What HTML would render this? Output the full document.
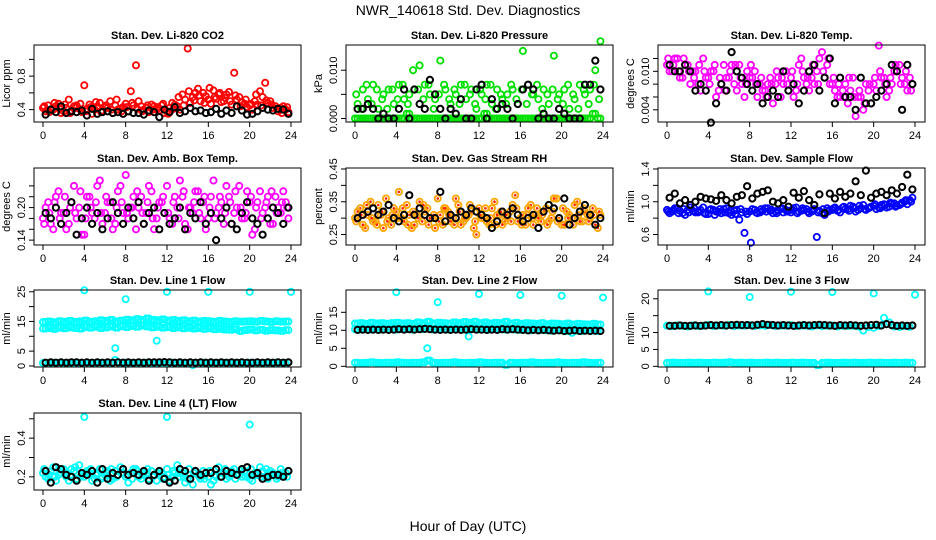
<!DOCTYPE html>
<html><head><meta charset="utf-8"><style>
html,body{margin:0;padding:0;background:#fff;}
svg{display:block;font-family:"Liberation Sans",sans-serif;}
</style></head><body>
<svg id="chart" width="936" height="540" viewBox="0 0 936 540">
<text x="468" y="15" text-anchor="middle" font-size="14">NWR_140618  Std. Dev. Diagnostics</text>
<text x="468" y="531" text-anchor="middle" font-size="14">Hour of Day (UTC)</text>
</svg>
<script>
// shared x positions (hours)
const hoursA = [0,0.5,1,1.5,2,2.5,3,3.5,4,4.5,5,5.5,6,6.5,7,7.5,8,8.5,9,9.5,10,10.5,11,11.5,12,12.5,13,13.5,14,14.5,15,15.5,16,16.5,17,17.5,18,18.5,19,19.5,20,20.5,21,21.5,22,22.5,23,23.5];
const hoursB = [0.25,0.75,1.25,1.75,2.25,2.75,3.25,3.75,4.25,4.75,5.25,5.75,6.25,6.75,7.25,7.75,8.25,8.75,9.25,9.75,10.25,10.75,11.25,11.75,12.25,12.75,13.25,13.75,14.25,14.75,15.25,15.75,16.25,16.75,17.25,17.75,18.25,18.75,19.25,19.75,20.25,20.75,21.25,21.75,22.25,22.75,23.25,23.75];
const hoursC = [0.12,0.62,1.12,1.62,2.12,2.62,3.12,3.62,4.12,4.62,5.12,5.62,6.12,6.62,7.12,7.62,8.12,8.62,9.12,9.62,10.12,10.62,11.12,11.62,12.12,12.62,13.12,13.62,14.12,14.62,15.12,15.62,16.12,16.62,17.12,17.62,18.12,18.62,19.12,19.62,20.12,20.62,21.12,21.62,22.12,22.62,23.12,23.62];
const xTicks = [0,4,8,12,16,20,24];

// Panel 1: CO2
const co2Red1 = [0.42,0.45,0.40,0.47,0.38,0.52,0.44,0.41,0.69,0.46,0.40,0.48,0.43,0.50,0.45,0.41,0.47,0.62,0.93,0.44,0.42,0.46,0.40,0.45,0.38,0.48,0.44,0.58,1.13,0.55,0.65,0.60,0.52,0.63,0.58,0.50,0.61,0.84,0.55,0.47,0.45,0.50,0.62,0.72,0.50,0.44,0.42,0.40];
const co2Red2 = [0.38,0.40,0.44,0.36,0.42,0.39,0.45,0.37,0.41,0.35,0.44,0.39,0.42,0.36,0.40,0.43,0.38,0.45,0.50,0.40,0.37,0.44,0.39,0.36,0.42,0.46,0.40,0.52,0.48,0.60,0.50,0.56,0.47,0.53,0.49,0.58,0.46,0.52,0.49,0.43,0.40,0.46,0.55,0.48,0.42,0.38,0.44,0.37];
const co2Red3 = [0.44,0.37,0.48,0.41,0.46,0.36,0.42,0.47,0.38,0.43,0.49,0.37,0.45,0.40,0.52,0.38,0.43,0.48,0.41,0.38,0.45,0.40,0.43,0.47,0.35,0.41,0.55,0.45,0.62,0.51,0.57,0.48,0.66,0.55,0.60,0.54,0.50,0.57,0.44,0.52,0.47,0.58,0.45,0.51,0.46,0.41,0.36,0.43];
const co2Black = [0.34,0.40,0.37,0.44,0.36,0.38,0.37,0.39,0.33,0.41,0.35,0.37,0.38,0.36,0.37,0.35,0.38,0.36,0.36,0.34,0.39,0.37,0.31,0.40,0.37,0.43,0.36,0.38,0.42,0.38,0.39,0.36,0.37,0.41,0.35,0.39,0.36,0.44,0.39,0.34,0.35,0.38,0.42,0.40,0.39,0.41,0.40,0.35];
// Panel 2: pressure
const presGreen1 = [0.003,0.006,0.004,0.007,0.002,0.005,0.006,0.003,0.007,0.004,0.005,0.006,0.011,0.007,0.005,0.004,0.012,0.006,0.003,0.005,0.007,0.004,0.006,0.002,0.005,0.007,0.003,0.006,0.004,0.005,0.006,0.003,0.014,0.007,0.005,0.004,0.006,0.003,0.013,0.005,0.006,0.002,0.004,0.007,0.005,0.006,0.010,0.016];
const presGreen2 = [0,0,0,0,0,0,0,0,0,0,0.001,0,0,0,0,0,0,0,0,0,0,0,0,0,0,0.001,0,0,0,0,0,0,0,0,0,0,0,0,0,0,0,0,0,0,0,0,0.001,0];
const presGreen3 = [0.005,0.002,0.007,0.003,0.006,0.004,0.002,0.006,0.004,0.007,0.003,0.010,0.006,0.004,0.007,0.002,0.005,0.007,0.004,0.006,0.003,0.007,0.005,0.003,0.006,0.004,0.007,0.002,0.005,0.003,0.007,0.004,0.006,0.003,0.005,0.007,0.002,0.005,0.006,0.004,0.003,0.007,0.005,0.002,0.006,0.003,0.007,0.004];
const presBlack = [0.002,0.002,0.003,0.002,0,0.001,0,0,0.002,0.006,0,0.006,0.003,0.002,0.008,0.005,0.002,0,0.002,0.001,0.004,0,0,0.006,0.007,0,0.004,0.002,0.003,0.002,0,0.003,0.006,0.007,0.006,0,0.001,0,0,0.002,0.001,0,0,0,0.007,0.007,0.012,0.006];
// Panel 3: Li-820 temp
const tempMag1 = [0.011,0.010,0.012,0.009,0.011,0.010,0.008,0.012,0.009,0.010,0.007,0.011,0.009,0.008,0.011,0.006,0.009,0.010,0.008,0.007,0.009,0.008,0.006,0.010,0.009,0.007,0.012,0.008,0.009,0.010,0.013,0.011,0.008,0.006,0.007,0.005,0.009,0.006,0.004,0.007,0.008,0.014,0.009,0.007,0.010,0.011,0.008,0.009];
const tempMag2 = [0.010,0.012,0.009,0.011,0.008,0.010,0.007,0.009,0.010,0.006,0.008,0.009,0.011,0.007,0.008,0.010,0.009,0.006,0.007,0.008,0.005,0.009,0.008,0.007,0.006,0.011,0.009,0.007,0.008,0.012,0.009,0.008,0.007,0.006,0.008,0.007,0.003,0.006,0.008,0.005,0.007,0.009,0.006,0.008,0.010,0.009,0.007,0.008];
const tempMag3 = [0.012,0.011,0.010,0.012,0.010,0.009,0.011,0.010,0.008,0.011,0.009,0.007,0.010,0.011,0.009,0.008,0.011,0.008,0.009,0.006,0.008,0.010,0.009,0.008,0.010,0.008,0.010,0.009,0.011,0.008,0.010,0.012,0.009,0.008,0.006,0.009,0.006,0.007,0.005,0.008,0.009,0.010,0.008,0.009,0.011,0.008,0.010,0.007];
const tempBlack = [0.011,0.010,0.010,0.011,0.010,0.007,0.008,0.007,0.002,0.005,0.008,0.007,0.013,0.010,0.009,0.008,0.007,0.008,0.005,0.006,0.007,0.006,0.010,0.007,0.008,0.005,0.007,0.010,0.011,0.007,0.009,0.012,0.005,0.009,0.006,0.006,0.004,0.009,0.005,0.005,0.006,0.007,0.008,0.011,0.010,0.004,0.011,0.008];
// Panel 4: amb box temp
const boxMag1 = [0.18,0.21,0.16,0.23,0.19,0.17,0.24,0.20,0.15,0.22,0.18,0.25,0.19,0.21,0.17,0.24,0.26,0.20,0.16,0.22,0.19,0.23,0.18,0.21,0.24,0.17,0.20,0.22,0.16,0.19,0.23,0.21,0.18,0.25,0.20,0.17,0.22,0.19,0.24,0.18,0.21,0.16,0.23,0.20,0.17,0.22,0.19,0.21];
const boxMag2 = [0.20,0.17,0.22,0.19,0.16,0.21,0.18,0.15,0.22,0.19,0.24,0.17,0.21,0.16,0.23,0.19,0.18,0.22,0.20,0.17,0.24,0.16,0.21,0.19,0.18,0.22,0.25,0.17,0.20,0.23,0.18,0.16,0.22,0.19,0.21,0.24,0.17,0.20,0.18,0.23,0.15,0.21,0.19,0.22,0.17,0.20,0.23,0.18];
const boxMag3 = [0.17,0.19,0.21,0.18,0.22,0.20,0.19,0.23,0.18,0.20,0.21,0.19,0.22,0.18,0.20,0.21,0.19,0.20,0.23,0.19,0.21,0.18,0.20,0.22,0.19,0.21,0.18,0.23,0.20,0.21,0.19,0.22,0.20,0.18,0.22,0.19,0.21,0.23,0.20,0.19,0.22,0.20,0.18,0.21,0.23,0.19,0.21,0.20];
const boxBlack = [0.19,0.18,0.20,0.17,0.19,0.21,0.15,0.18,0.20,0.17,0.19,0.16,0.18,0.21,0.19,0.17,0.20,0.18,0.21,0.17,0.19,0.20,0.16,0.19,0.17,0.18,0.20,0.16,0.19,0.18,0.21,0.17,0.19,0.14,0.18,0.20,0.17,0.16,0.19,0.21,0.18,0.17,0.15,0.18,0.20,0.19,0.17,0.20];
// Panel 5: RH
const rhOrange1 = [0.30,0.33,0.27,0.35,0.29,0.31,0.36,0.28,0.32,0.30,0.34,0.27,0.31,0.29,0.33,0.30,0.36,0.28,0.32,0.30,0.34,0.29,0.31,0.27,0.33,0.30,0.28,0.35,0.31,0.29,0.32,0.37,0.30,0.28,0.34,0.31,0.29,0.33,0.30,0.36,0.28,0.32,0.30,0.35,0.29,0.31,0.33,0.27];
const rhOrange2 = [0.32,0.28,0.31,0.29,0.34,0.27,0.30,0.33,0.38,0.29,0.31,0.28,0.35,0.32,0.30,0.27,0.31,0.33,0.29,0.36,0.28,0.30,0.32,0.25,0.30,0.29,0.33,0.31,0.28,0.30,0.34,0.29,0.31,0.33,0.28,0.30,0.32,0.29,0.36,0.30,0.28,0.31,0.34,0.29,0.32,0.30,0.28,0.31];
const rhOrange3 = [0.29,0.31,0.34,0.30,0.28,0.32,0.29,0.31,0.30,0.33,0.28,0.32,0.30,0.34,0.28,0.31,0.29,0.33,0.31,0.28,0.32,0.30,0.34,0.29,0.31,0.33,0.30,0.28,0.32,0.31,0.29,0.33,0.28,0.31,0.30,0.33,0.31,0.28,0.32,0.29,0.33,0.30,0.28,0.31,0.33,0.29,0.31,0.32];
const rhBlack = [0.30,0.31,0.32,0.33,0.31,0.32,0.34,0.30,0.29,0.31,0.37,0.31,0.33,0.31,0.30,0.30,0.38,0.29,0.31,0.30,0.32,0.31,0.33,0.32,0.31,0.30,0.27,0.29,0.32,0.31,0.33,0.31,0.29,0.30,0.31,0.27,0.32,0.34,0.33,0.30,0.36,0.28,0.30,0.32,0.34,0.31,0.28,0.30];
// Panel 6: sample flow
const sfBlue1 = [0.90,0.88,0.92,0.86,0.90,0.89,0.87,0.93,0.85,0.90,0.88,0.91,0.86,0.89,0.78,0.62,0.88,0.90,0.87,0.92,0.89,0.88,0.91,0.90,0.87,0.93,0.89,0.91,0.88,0.57,0.86,0.92,0.90,0.89,0.93,0.91,0.94,0.90,0.96,0.92,0.95,0.93,0.97,0.94,0.98,0.96,1.00,1.02];
const sfBlue2 = [0.86,0.92,0.89,0.84,0.93,0.87,0.90,0.85,0.91,0.88,0.86,0.92,0.84,0.90,0.87,0.85,0.91,0.86,0.89,0.92,0.86,0.90,0.87,0.89,0.92,0.88,0.90,0.86,0.91,0.89,0.84,0.90,0.93,0.87,0.91,0.95,0.88,0.92,0.90,0.94,0.91,0.96,0.93,0.98,0.95,0.99,0.97,1.05];
const sfBlue3 = [0.88,0.90,0.86,0.91,0.87,0.92,0.88,0.86,0.90,0.84,0.91,0.87,0.89,0.85,0.91,0.88,0.50,0.87,0.91,0.88,0.90,0.86,0.92,0.88,0.90,0.86,0.92,0.88,0.90,0.87,0.91,0.88,0.92,0.90,0.94,0.89,0.92,0.95,0.91,0.93,0.97,0.92,0.96,0.99,0.94,0.97,1.02,1.00];
const sfBlack = [1.05,1.10,0.98,1.02,0.96,1.00,1.06,1.04,1.03,1.01,1.08,1.02,0.98,1.06,1.08,1.19,1.04,1.10,1.12,1.14,1.00,0.98,1.02,0.94,1.11,1.05,1.13,1.02,0.96,1.09,0.86,1.10,1.04,1.12,1.06,1.10,1.25,1.08,1.38,1.05,1.10,1.12,1.08,1.14,1.10,1.18,1.33,1.15];
// Panel 7: Line 1 flow
const l1Upper = [14.8,15.0,14.7,15.1,14.9,15.2,14.8,15.0,15.3,14.9,15.1,15.4,15.2,15.5,15.0,15.3,15.6,15.4,15.8,15.5,16.0,15.6,15.4,15.7,15.3,15.5,15.2,15.4,15.1,15.3,15.0,15.2,15.1,14.9,15.2,15.0,14.8,15.1,14.9,15.0,15.1,14.9,15.2,15.0,14.8,15.1,14.9,15.0];
const l1Lower = [12.6,12.8,12.5,12.9,12.7,13.0,12.8,12.6,13.1,12.9,13.2,12.8,13.0,13.3,12.9,13.4,13.1,13.5,13.2,13.6,13.3,13.0,13.2,12.9,13.1,12.8,13.0,12.7,12.9,12.6,12.8,12.5,12.7,12.4,12.5,12.3,12.2,12.4,11.8,12.1,12.3,12.0,12.2,11.9,12.1,12.0,11.8,12.1];
const l1Base = [1.0,0.9,1.1,1.0,0.9,1.0,1.1,1.0,0.9,1.0,1.0,1.1,0.9,1.0,2.0,1.0,1.1,0.9,1.0,1.0,1.1,1.0,0.9,1.0,1.0,1.1,1.0,0.9,1.0,0.3,1.0,1.1,0.9,1.0,1.0,1.1,1.0,0.9,1.0,1.0,1.1,1.0,0.9,1.0,1.0,1.1,1.0,0.9];
const l1Black = [1.1,1.2,1.1,1.2,1.1,1.2,1.2,1.1,1.2,1.1,1.2,1.1,1.2,1.1,1.2,1.1,1.2,1.1,1.2,1.1,1.2,1.2,1.2,1.3,1.2,1.1,1.2,1.1,1.2,1.1,1.2,1.1,1.2,1.1,1.2,1.1,1.2,1.1,1.2,1.1,1.1,1.2,1.1,1.2,1.1,1.2,1.1,1.2];
const l1OutX = [4,8,7,11,12,16,20,24];
const l1OutY = [25.5,22.5,6,8.5,25,25,25,25];
// Panel 8: Line 2 flow
const l2Upper = [11.9,12.0,11.8,12.1,11.9,12.0,11.8,12.0,12.1,11.9,12.0,11.8,12.2,12.0,12.4,11.9,12.1,12.0,11.9,12.2,12.0,12.3,12.1,12.4,12.0,12.2,11.9,12.1,12.0,12.4,11.9,12.1,11.8,12.0,11.9,11.8,12.0,11.7,11.9,11.8,11.7,11.9,11.6,11.8,11.7,11.6,11.8,11.6];
const l2Mid = [10.3,10.2,10.4,10.2,10.3,10.2,10.4,10.3,10.2,10.4,10.3,10.2,10.4,10.3,10.5,10.2,10.3,10.4,10.2,10.3,10.4,10.2,10.3,10.4,10.2,10.3,10.2,10.4,10.3,10.2,10.3,10.2,10.1,10.2,10.0,10.2,10.1,10.0,9.9,10.1,10.0,9.8,10.0,9.9,9.8,10.0,9.9,9.8];
const l2Base = [1.0,0.9,1.0,1.1,1.0,0.9,1.0,1.0,1.1,1.0,0.9,1.0,1.0,1.1,1.6,1.0,0.9,1.0,1.0,1.1,1.0,0.9,1.0,1.0,1.1,1.0,0.9,1.0,1.0,0.4,1.0,0.9,1.0,1.0,1.1,1.0,0.9,1.0,1.0,1.1,1.0,0.9,1.0,1.0,1.1,1.0,0.9,1.0];
const l2Black = [10.1,10.2,10.1,10.2,10.1,10.2,10.1,10.2,10.3,10.2,10.3,10.2,10.3,10.4,10.3,10.2,10.1,10.2,10.1,10.2,10.1,10.2,10.3,10.2,10.2,10.1,10.2,10.1,10.3,10.2,10.3,10.2,10.1,10.0,10.1,10.0,10.1,10.0,9.9,10.0,9.8,9.9,10.0,9.8,9.9,9.8,9.9,9.8];
const l2OutX = [4,8,7,11,12,16,20,21,24];
const l2OutY = [20.6,17.8,5.0,8.3,20.1,19.8,19.6,9.3,19.1];
// Panel 9: Line 3 flow
const l3Upper = [12.0,11.9,12.1,12.0,11.8,12.1,11.9,12.0,12.2,11.9,12.1,12.0,12.2,11.9,12.1,12.0,12.2,11.9,12.1,12.0,12.2,11.9,12.1,12.0,12.2,11.9,12.1,12.0,11.8,12.1,11.9,12.0,12.1,11.8,12.0,11.9,12.0,11.8,10.6,11.6,11.4,11.9,14.3,13.0,11.8,11.6,11.9,11.7];
const l3Base = [1.0,1.1,1.0,1.0,1.1,1.0,1.1,1.0,1.0,1.1,1.0,1.1,1.2,1.0,1.1,1.0,1.1,1.0,1.0,1.1,1.0,1.1,1.0,1.0,1.1,1.0,1.1,1.0,1.0,0.4,1.0,1.1,1.0,1.0,1.1,1.0,1.1,1.0,1.0,1.1,1.0,1.1,1.0,1.0,1.1,1.0,1.1,1.0];
const l3Black = [12.0,12.0,12.1,12.0,12.0,12.1,12.0,12.1,12.2,12.1,12.2,12.1,12.2,12.3,12.2,12.2,12.1,12.3,12.5,12.3,12.2,12.1,12.2,12.1,12.0,12.1,12.2,12.1,12.2,12.3,12.2,12.1,12.0,12.2,12.1,12.2,12.1,12.0,12.1,12.2,12.3,12.1,12.5,12.2,12.0,12.1,12.0,12.1];
const l3OutX = [4,8,12,16,20,24];
const l3OutY = [22.2,20.5,22.1,22.0,21.6,21.2];
// Panel 10: Line 4 flow
const l4Cyan1 = [0.22,0.19,0.25,0.21,0.24,0.18,0.23,0.26,0.20,0.22,0.19,0.24,0.21,0.18,0.23,0.25,0.20,0.22,0.24,0.19,0.21,0.23,0.18,0.22,0.24,0.20,0.26,0.22,0.19,0.16,0.21,0.23,0.20,0.18,0.25,0.22,0.20,0.24,0.21,0.23,0.19,0.22,0.25,0.20,0.23,0.21,0.24,0.22];
const l4Cyan2 = [0.20,0.23,0.18,0.22,0.20,0.24,0.19,0.21,0.23,0.18,0.22,0.20,0.23,0.19,0.21,0.22,0.17,0.24,0.20,0.22,0.19,0.21,0.23,0.20,0.18,0.22,0.20,0.17,0.21,0.23,0.19,0.22,0.16,0.20,0.22,0.19,0.23,0.21,0.20,0.22,0.18,0.21,0.23,0.19,0.22,0.20,0.21,0.23];
const l4Cyan3 = [0.24,0.21,0.20,0.24,0.22,0.21,0.25,0.20,0.22,0.24,0.21,0.19,0.22,0.24,0.20,0.22,0.21,0.19,0.23,0.21,0.24,0.20,0.22,0.19,0.21,0.23,0.22,0.20,0.24,0.22,0.20,0.19,0.23,0.21,0.20,0.24,0.21,0.19,0.23,0.20,0.24,0.22,0.20,0.24,0.21,0.19,0.22,0.20];
const l4Black = [0.23,0.17,0.25,0.24,0.21,0.20,0.18,0.22,0.21,0.23,0.17,0.24,0.19,0.22,0.21,0.24,0.21,0.22,0.21,0.23,0.18,0.21,0.23,0.19,0.17,0.18,0.24,0.23,0.19,0.23,0.21,0.22,0.22,0.24,0.20,0.23,0.22,0.21,0.24,0.25,0.21,0.22,0.19,0.20,0.21,0.21,0.20,0.23];
const l4OutX = [4,12,20];
const l4OutY = [0.51,0.51,0.47];

const BLACK = '#000000';
const panels = [
 {name:'co2', title:'Stan. Dev. Li-820 CO2', ylab:'Licor ppm', col:0,row:0, ymin:0.252,ymax:1.172, ticks:[0.4,0.6,0.8,1.0], labels:['0.4','','0.8',''],
  series:[[hoursA,co2Red1,'#ff0000'],[hoursB,co2Red2,'#ff0000'],[hoursC,co2Red3,'#ff0000'],[hoursB,co2Black,BLACK]]},
 {name:'pressure', title:'Stan. Dev. Li-820 Pressure', ylab:'kPa', col:1,row:0, ymin:-0.00072,ymax:0.01522, ticks:[0,0.005,0.010], labels:['0.000','','0.010'],
  series:[[hoursA,presGreen2,'#00e000'],[hoursB,presGreen2,'#00e000'],[hoursB,presGreen1,'#00e000'],[hoursC,presGreen3,'#00e000'],[hoursB,presBlack,BLACK]]},
 {name:'li820-temp', title:'Stan. Dev. Li-820 Temp.', ylab:'degrees C', col:2,row:0, ymin:0.0021,ymax:0.0141, ticks:[0.004,0.006,0.008,0.010,0.012], labels:['0.004','','','0.010',''],
  series:[[hoursA,tempMag1,'#ff00ff'],[hoursB,tempMag2,'#ff00ff'],[hoursC,tempMag3,'#ff00ff'],[hoursB,tempBlack,BLACK]]},
 {name:'amb-box-temp', title:'Stan. Dev. Amb. Box Temp.', ylab:'degrees C', col:0,row:1, ymin:0.131,ymax:0.273, ticks:[0.14,0.16,0.18,0.20,0.22,0.24], labels:['0.14','','','0.20','',''],
  series:[[hoursA,boxMag1,'#ff00ff'],[hoursB,boxMag2,'#ff00ff'],[hoursC,boxMag3,'#ff00ff'],[hoursB,boxBlack,BLACK]]},
 {name:'gas-stream-rh', title:'Stan. Dev. Gas Stream RH', ylab:'percent', col:1,row:1, ymin:0.218,ymax:0.453, ticks:[0.25,0.30,0.35,0.40,0.45], labels:['0.25','','0.35','','0.45'],
  series:[[hoursA,rhOrange1,'#ffa500'],[hoursB,rhOrange2,'#ffa500'],[hoursC,rhOrange3,'#ffa500'],[hoursB,rhBlack,BLACK]]},
 {name:'sample-flow', title:'Stan. Dev. Sample Flow', ylab:'ml/min', col:2,row:1, ymin:0.472,ymax:1.412, ticks:[0.6,0.8,1.0,1.2,1.4], labels:['0.6','','1.0','','1.4'],
  series:[[hoursA,sfBlue1,'#0000ff'],[hoursB,sfBlue2,'#0000ff'],[hoursC,sfBlue3,'#0000ff'],[hoursB,sfBlack,BLACK]]},
 {name:'line1-flow', title:'Stan. Dev. Line 1 Flow', ylab:'ml/min', col:0,row:2, ymin:-0.35,ymax:25.6, ticks:[0,5,10,15,20,25], labels:['0','5','','15','','25'],
  series:[[hoursA,l1Upper,'#00ffff'],[hoursB,l1Upper,'#00ffff'],[hoursA,l1Lower,'#00ffff'],[hoursB,l1Lower,'#00ffff'],[hoursA,l1Base,'#00ffff'],[l1OutX,l1OutY,'#00ffff'],[hoursB,l1Black,BLACK]]},
 {name:'line2-flow', title:'Stan. Dev. Line 2 Flow', ylab:'ml/min', col:1,row:2, ymin:-0.2,ymax:21.2, ticks:[0,5,10,15], labels:['0','5','10','15'],
  series:[[hoursA,l2Upper,'#00ffff'],[hoursB,l2Upper,'#00ffff'],[hoursA,l2Mid,'#00ffff'],[hoursA,l2Base,'#00ffff'],[hoursB,l2Base,'#00ffff'],[l2OutX,l2OutY,'#00ffff'],[hoursB,l2Black,BLACK]]},
 {name:'line3-flow', title:'Stan. Dev. Line 3 Flow', ylab:'ml/min', col:2,row:2, ymin:-0.2,ymax:22.6, ticks:[0,5,10,15,20], labels:['0','5','10','','20'],
  series:[[hoursA,l3Upper,'#00ffff'],[hoursA,l3Base,'#00ffff'],[hoursB,l3Base,'#00ffff'],[l3OutX,l3OutY,'#00ffff'],[hoursB,l3Black,BLACK]]},
 {name:'line4-flow', title:'Stan. Dev. Line 4 (LT) Flow', ylab:'ml/min', col:0,row:3, ymin:0.132,ymax:0.53, ticks:[0.2,0.3,0.4,0.5], labels:['0.2','','0.4',''],
  series:[[hoursA,l4Cyan1,'#00ffff'],[hoursB,l4Cyan2,'#00ffff'],[hoursC,l4Cyan3,'#00ffff'],[l4OutX,l4OutY,'#00ffff'],[hoursB,l4Black,BLACK]]}
];

const svg = document.getElementById('chart');
const NS = 'http://www.w3.org/2000/svg';
const colLeft = [34,346,658], rowTop = [45,168,290,413], W = 267, H = 77;
function mk(tag, attrs, parent){ const e=document.createElementNS(NS,tag); for(const k in attrs) e.setAttribute(k,attrs[k]); parent.appendChild(e); return e; }

panels.forEach(p=>{
  const L = colLeft[p.col], T = rowTop[p.row];
  const g = mk('g',{},svg);
  
  
  const x0 = L+9, x1 = L+W-10;
  const xs = h => x0 + (h/24)*(x1-x0);
  const ys = v => T+H - (v-p.ymin)/(p.ymax-p.ymin)*H;
  const t = mk('text',{x:L+W/2,y:T-6,'text-anchor':'middle','font-size':11,'font-weight':'bold'},g);
  t.textContent = p.title;
  
  
  const pg = mk('g',{},g);
  
  
  p.series.forEach(s=>{
    const xsArr=s[0], vals=s[1], color=s[2];
    vals.forEach((v,i)=>{
      const c = mk('circle',{cx:xs(xsArr[i]).toFixed(1),cy:ys(v).toFixed(1),r:3.1,fill:'none',stroke:color,'stroke-width':color===BLACK?2:1.8},pg);
      
      
      if(color==='#ffa500'){ mk('circle',{cx:xs(xsArr[i]).toFixed(1),cy:ys(v).toFixed(1),r:1.3,fill:'#ff2000'},pg); }
    });
  });
  const b = mk('rect',{x:L,y:T,width:W,height:H,fill:'none',stroke:'#000','stroke-width':1},g);
  
  
  const xa = mk('g',{},g);
  
  
  xTicks.forEach(h=>{
    mk('line',{x1:xs(h),x2:xs(h),y1:T+H,y2:T+H+5,stroke:'#000'},xa);
    const tl = mk('text',{x:xs(h),y:T+H+17,'text-anchor':'middle','font-size':11},xa);
    tl.textContent = h;
  });
  const ya = mk('g',{},g);
  
  
  p.ticks.forEach((v,i)=>{
    const y = ys(v);
    mk('line',{x1:L-5,x2:L,y1:y,y2:y,stroke:'#000'},ya);
    if(p.labels[i]){
      const tl = mk('text',{x:L-9,y:y,'text-anchor':'middle','font-size':11,transform:`rotate(-90 ${L-9} ${y})`},ya);
      tl.textContent = p.labels[i];
    }
  });
  const yl = mk('text',{x:L-24,y:T+H/2,'text-anchor':'middle','font-size':11,transform:`rotate(-90 ${L-24} ${T+H/2})`},g);
  yl.textContent = p.ylab;
  
  
});
</script>
</body></html>
